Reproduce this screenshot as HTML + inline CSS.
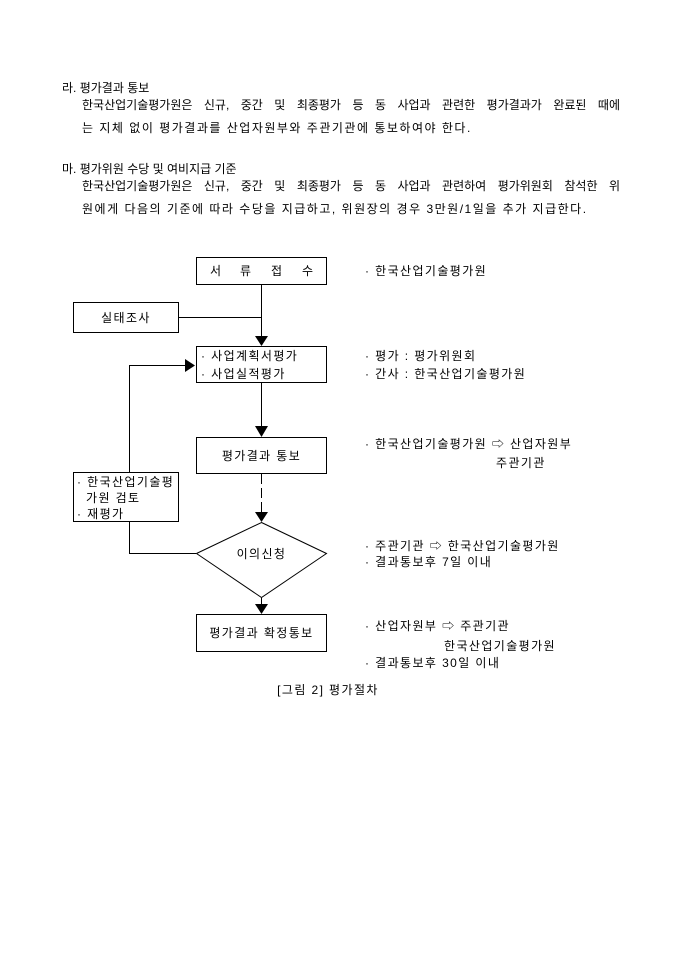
<!DOCTYPE html>
<html><head><meta charset="utf-8"><style>
body{margin:0;width:680px;height:962px;background:#fff;position:relative;font-family:"Liberation Sans","Noto Sans CJK KR","NanumGothic",sans-serif;font-size:12px;color:#000}
.t{position:absolute;white-space:nowrap;line-height:14px}
.s{letter-spacing:1.5px}
.j{text-align:justify;text-align-last:justify;white-space:normal}
svg{position:absolute;left:0;top:0}
svg text{font-family:"Liberation Sans","Noto Sans CJK KR","NanumGothic",sans-serif;font-size:12px;letter-spacing:1.4px}
</style></head><body>
<div class="t" style="left:62px;top:81px">라. 평가결과 통보</div>
<div class="t j" style="left:82px;top:98px;width:538px">한국산업기술평가원은 신규, 중간 및 최종평가 등 동 사업과 관련한 평가결과가 완료된 때에</div>
<div class="t s" style="left:82px;top:121px">는 지체 없이 평가결과를 산업자원부와 주관기관에 통보하여야 한다.</div>
<div class="t" style="left:62px;top:162px">마. 평가위원 수당 및 여비지급 기준</div>
<div class="t j" style="left:82px;top:179px;width:538px">한국산업기술평가원은 신규, 중간 및 최종평가 등 동 사업과 관련하여 평가위원회 참석한 위</div>
<div class="t s" style="left:82px;top:202px">원에게 다음의 기준에 따라 수당을 지급하고, 위원장의 경우 3만원/1일을 추가 지급한다.</div>

<svg width="680" height="962" viewBox="0 0 680 962">
<g fill="none" stroke="#000" stroke-width="1">
<rect x="196.5" y="257.5" width="130" height="27"/>
<rect x="73.5" y="302.5" width="105" height="30"/>
<rect x="196.5" y="346.5" width="130" height="36"/>
<rect x="196.5" y="437.5" width="130" height="36"/>
<rect x="73.5" y="472.5" width="105" height="49"/>
<polygon points="261.5,522.5 326.5,553.5 261.5,597.5 196.5,553.5"/>
<rect x="196.5" y="614.5" width="130" height="37"/>
<line x1="261.5" y1="285" x2="261.5" y2="337"/>
<line x1="178" y1="317.5" x2="261.5" y2="317.5"/>
<line x1="261.5" y1="383" x2="261.5" y2="427"/>
<line x1="261.5" y1="474" x2="261.5" y2="513" stroke-dasharray="10,4"/>
<line x1="261.5" y1="598" x2="261.5" y2="605"/>
<polyline points="129.5,472 129.5,365.5 185,365.5"/>
<polyline points="129.5,522 129.5,553.5 196,553.5"/>
</g>
<g fill="#000">
<polygon points="255,336 268,336 261.5,346"/>
<polygon points="255,426 268,426 261.5,437"/>
<polygon points="255,512 268,512 261.5,522"/>
<polygon points="255,604 268,604 261.5,614"/>
<polygon points="185,359 185,372 195,365.5"/>
</g>
<text x="210" y="275">서</text><text x="240" y="275">류</text><text x="271" y="275">접</text><text x="302" y="275">수</text>
<text x="126" y="322" text-anchor="middle">실태조사</text>
<text x="201" y="360">· 사업계획서평가</text>
<text x="201" y="378">· 사업실적평가</text>
<text x="261.5" y="460" text-anchor="middle">평가결과 통보</text>
<text x="77" y="486">· 한국산업기술평</text>
<text x="86" y="502">가원 검토</text>
<text x="77" y="518">· 재평가</text>
<text x="261.5" y="558" text-anchor="middle">이의신청</text>
<text x="261.5" y="637" text-anchor="middle">평가결과 확정통보</text>
<text x="365" y="275">· 한국산업기술평가원</text>
<text x="365" y="360">· 평가 : 평가위원회</text>
<text x="365" y="378">· 간사 : 한국산업기술평가원</text>
<text x="365" y="448">· 한국산업기술평가원 ⇨ 산업자원부</text>
<text x="496" y="467">주관기관</text>
<text x="365" y="550">· 주관기관 ⇨ 한국산업기술평가원</text>
<text x="365" y="566">· 결과통보후 7일 이내</text>
<text x="365" y="630">· 산업자원부 ⇨ 주관기관</text>
<text x="444" y="650">한국산업기술평가원</text>
<text x="365" y="667">· 결과통보후 30일 이내</text>
<text x="328" y="694" text-anchor="middle">[그림 2] 평가절차</text>
</svg>
</body></html>
